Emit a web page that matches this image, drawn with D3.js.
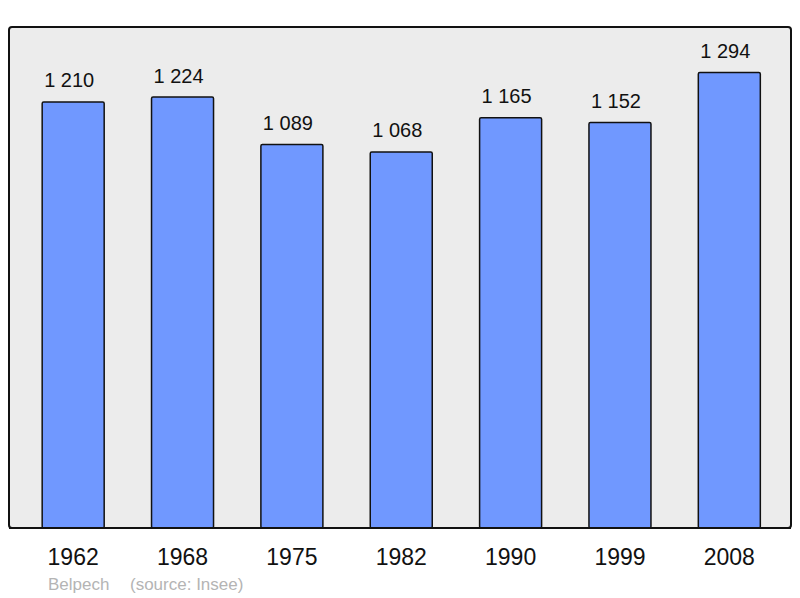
<!DOCTYPE html>
<html>
<head>
<meta charset="utf-8">
<script src="https://cdn.jsdelivr.net/npm/d3@7"></script>
<style>
  body { margin: 0; background: #fff; }
  text { font-family: "Liberation Sans", Arial, sans-serif; }
</style>
</head>
<body>
<div id="chart"></div>
<script>
// data
const years = ["1962", "1968", "1975", "1982", "1990", "1999", "2008"];
const population = [1210, 1224, 1089, 1068, 1165, 1152, 1294];
const place = "Belpech";
const source = "(source: Insee)";

const width = 800, height = 598;
const panel = {left: 9, top: 27, right: 791, bottom: 528};

const svg = d3.select("#chart")
  .append("svg")
    .attr("width", width)
    .attr("height", height);

// background panel
svg.append("rect")
  .attr("x", panel.left)
  .attr("y", panel.top)
  .attr("width", panel.right - panel.left)
  .attr("height", panel.bottom - panel.top)
  .attr("rx", 3)
  .attr("fill", "#ececec")
  .attr("stroke", "#111")
  .attr("stroke-width", 2);

const x = d3.scaleBand()
  .domain(years)
  .range([18.5, 784])
  .paddingInner(0.433)
  .paddingOuter(0.2165);

const y = d3.scaleLinear()
  .domain([0, 1423])
  .range([panel.bottom, panel.top]);

// bars
svg.append("g")
  .selectAll("rect")
  .data(population)
  .join("rect")
    .attr("x", (d, i) => x(years[i]))
    .attr("y", d => y(d))
    .attr("width", x.bandwidth())
    .attr("height", d => y(0) - y(d))
    .attr("rx", 1.5)
    .attr("fill", "#7098ff")
    .attr("stroke", "#111")
    .attr("stroke-width", 1.5);

// redraw panel bottom line over bars
svg.append("line")
  .attr("x1", panel.left)
  .attr("x2", panel.right)
  .attr("y1", panel.bottom)
  .attr("y2", panel.bottom)
  .attr("stroke", "#111")
  .attr("stroke-width", 2);

// value labels
const fmt = d => d3.format(",")(d).replace(",", " ");
svg.append("g")
  .selectAll("text")
  .data(population)
  .join("text")
    .attr("x", (d, i) => x(years[i]) + x.bandwidth() / 2 - 4)
    .attr("y", d => y(d) - 14.5)
    .attr("text-anchor", "middle")
    .attr("font-size", 20)
    .attr("fill", "#111")
    .text(fmt);

// year labels
svg.append("g")
  .selectAll("text")
  .data(years)
  .join("text")
    .attr("x", d => x(d) + x.bandwidth() / 2)
    .attr("y", 565)
    .attr("text-anchor", "middle")
    .attr("font-size", 23)
    .attr("fill", "#111")
    .text(d => d);

svg.append("text")
  .attr("x", 48)
  .attr("y", 590)
  .attr("font-size", 17)
  .attr("fill", "#b4b4b4")
  .text(place);

svg.append("text")
  .attr("x", 130)
  .attr("y", 590)
  .attr("font-size", 17)
  .attr("fill", "#b4b4b4")
  .text(source);
</script>
</body>
</html>
